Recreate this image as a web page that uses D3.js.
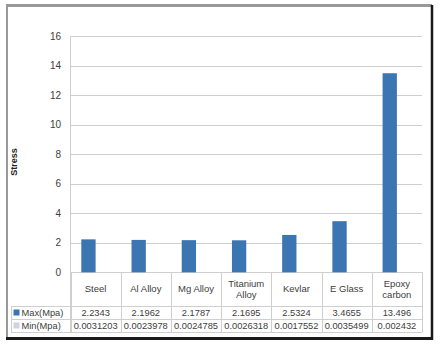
<!DOCTYPE html>
<html><head><meta charset="utf-8">
<script src="https://cdn.jsdelivr.net/npm/d3@7"></script>
<style>body{margin:0;background:#fff}svg{display:block}</style>
</head><body><svg id="c" width="440" height="347"></svg>
<script>
const categories = [["Steel"],["Al Alloy"],["Mg Alloy"],["Titanium","Alloy"],["Kevlar"],["E Glass"],["Epoxy","carbon"]];
const seriesNames = ["Max(Mpa)","Min(Mpa)"];
const maxVals = [2.2343, 2.1962, 2.1787, 2.1695, 2.5324, 3.4655, 13.496];
const minVals = [0.0031203, 0.0023978, 0.0024785, 0.0026318, 0.0017552, 0.0035499, 0.002432];
const maxLabels = ["2.2343","2.1962","2.1787","2.1695","2.5324","3.4655","13.496"];
const minLabels = ["0.0031203","0.0023978","0.0024785","0.0026318","0.0017552","0.0035499","0.002432"];
const yTicks = [0,2,4,6,8,10,12,14,16];
const colors = ["#3b75b2","#c8d6e4"];

const svg = d3.select("#c");
const font = "'Liberation Sans', Arial, sans-serif";
const textCol = "#404040";
const gridCol = "#cfcfcf";

// frame
svg.append("rect").attr("x",0).attr("y",0).attr("width",440).attr("height",347).attr("fill","#fff");
svg.append("line").attr("x1",6).attr("x2",432).attr("y1",5.5).attr("y2",5.5).attr("stroke","#999").attr("stroke-width",3);
svg.append("line").attr("x1",7).attr("x2",7).attr("y1",4).attr("y2",339).attr("stroke","#999").attr("stroke-width",2);
svg.append("line").attr("x1",432).attr("x2",432).attr("y1",5).attr("y2",340).attr("stroke","#1a1a1a").attr("stroke-width",2.5);
svg.append("line").attr("x1",6).attr("x2",433).attr("y1",338.5).attr("y2",338.5).attr("stroke","#1a1a1a").attr("stroke-width",3);

const x0 = 70.5, x1 = 422;
const x = d3.scaleBand().domain(d3.range(categories.length)).range([x0,x1]).paddingInner(0).paddingOuter(0);
const xs = d3.scaleBand().domain(seriesNames).range([0, x.bandwidth()]).paddingInner(0).paddingOuter(0.755);
const y = d3.scaleLinear().domain([0,16]).range([272.3,36.3]);

// gridlines
svg.append("g").selectAll("line").data(yTicks).join("line")
  .attr("x1",x0).attr("x2",x1).attr("y1",d=>Math.round(y(d))+0.5).attr("y2",d=>Math.round(y(d))+0.5)
  .attr("stroke",gridCol).attr("stroke-width",1);
// y axis line
svg.append("line").attr("x1",x0).attr("x2",x0).attr("y1",y(16)).attr("y2",332).attr("stroke",gridCol);

// y tick labels
svg.append("g").selectAll("text").data(yTicks).join("text")
  .attr("x",61).attr("y",d=>y(d)).attr("dy","0.35em").attr("text-anchor","end")
  .attr("font-family",font).attr("font-size",10).attr("fill",textCol).text(d=>d);

// axis title
svg.append("text").attr("transform","translate(17,162) rotate(-90)").attr("text-anchor","middle")
  .attr("font-family",font).attr("font-size",9).attr("font-weight","bold").attr("fill","#222").text("Stress");

// bars
const series = [maxVals, minVals];
series.forEach((vals,si)=>{
  svg.append("g").selectAll("rect").data(vals).join("rect")
    .attr("x",(d,i)=>x(i)+xs(seriesNames[si])).attr("width",xs.bandwidth())
    .attr("y",d=>y(d)).attr("height",d=>y(0)-y(d)).attr("fill",colors[si]);
});

// data table
const rowTop = 272.3, catBottom = 306, maxBottom = 319, minBottom = 332, tableLeft = 11;
const tg = svg.append("g").attr("stroke",gridCol).attr("stroke-width",1);
d3.range(categories.length+1).forEach(i=>{
  const xx = i<categories.length ? x(i) : x1;
  tg.append("line").attr("x1",Math.round(xx)+0.5).attr("x2",Math.round(xx)+0.5).attr("y1",rowTop).attr("y2",minBottom);
});
[catBottom, maxBottom, minBottom].forEach(yy=>{
  tg.append("line").attr("x1",tableLeft).attr("x2",x1).attr("y1",yy+0.5).attr("y2",yy+0.5);
});
tg.append("line").attr("x1",tableLeft+0.5).attr("x2",tableLeft+0.5).attr("y1",catBottom).attr("y2",minBottom);

// category labels
categories.forEach((lines,i)=>{
  const cx = x(i)+x.bandwidth()/2;
  const cy = (rowTop+catBottom)/2;
  const t = svg.append("text").attr("text-anchor","middle").attr("font-family",font).attr("font-size",9.5).attr("fill",textCol);
  lines.forEach((l,j)=>{
    t.append("tspan").attr("x",cx).attr("y",cy + (j-(lines.length-1)/2)*11.5).attr("dy","0.35em").text(l);
  });
});

// value rows
[[maxLabels,(catBottom+maxBottom)/2],[minLabels,(maxBottom+minBottom)/2]].forEach(([labs,cy])=>{
  svg.append("g").selectAll("text").data(labs).join("text")
    .attr("x",(d,i)=>x(i)+x.bandwidth()/2).attr("y",cy).attr("dy","0.35em").attr("text-anchor","middle")
    .attr("font-family",font).attr("font-size",9.3).attr("fill",textCol).text(d=>d);
});

// legend keys in table
seriesNames.forEach((n,si)=>{
  const cy = si===0 ? (catBottom+maxBottom)/2 : (maxBottom+minBottom)/2;
  svg.append("rect").attr("x",13.5).attr("y",cy-3).attr("width",6).attr("height",6).attr("fill",colors[si]);
  svg.append("text").attr("x",21.5).attr("y",cy).attr("dy","0.35em").attr("font-family",font).attr("font-size",9.3)
    .attr("fill",textCol).text(n);
});
</script></body></html>
